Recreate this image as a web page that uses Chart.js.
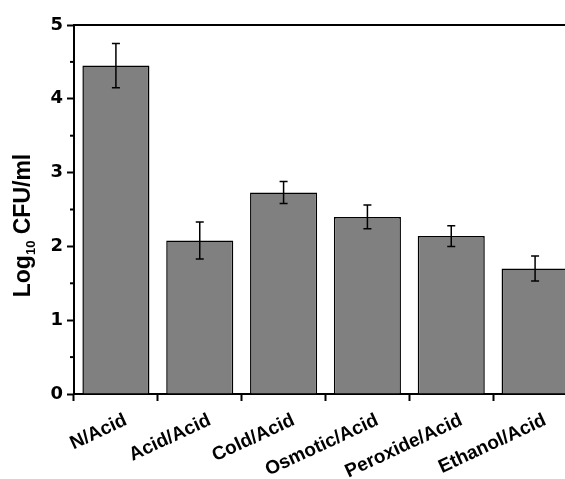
<!DOCTYPE html>
<html>
<head>
<meta charset="utf-8">
<script src="https://cdn.jsdelivr.net/npm/chart.js@4/dist/chart.umd.min.js"></script>
<style>
  body { margin: 0; overflow: hidden; background: #fff; }
  #wrap { width: 578px; height: 479px; }
</style>
</head>
<body>
<div id="wrap"><canvas id="bars" width="578" height="479"></canvas></div>
<script>
// categories and values
const groups = ['N/Acid', 'Acid/Acid', 'Cold/Acid', 'Osmotic/Acid', 'Peroxide/Acid', 'Ethanol/Acid'];
const meanLog = [4.45, 2.08, 2.73, 2.40, 2.14, 1.70];
const errLog = [0.30, 0.25, 0.15, 0.16, 0.14, 0.17];
const yMinor = [0.5, 1.5, 2.5, 3.5, 4.5];

const FONT = 'Liberation Sans, Arial, sans-serif';

//draws error bars, minor y ticks, the frame and the y title with subscript
const extras = {
	id: 'extras',
	afterDatasetsDraw(chart) {
		const ctx = chart.ctx;
		const x = chart.scales.x;
		const y = chart.scales.y;
		const area = chart.chartArea;

		ctx.save();
		ctx.strokeStyle = '#000';
		ctx.lineWidth = 1.5;

		//error bars
		meanLog.forEach((v, i) => {
			const cx = x.getPixelForValue(i);
			const top = y.getPixelForValue(v + errLog[i]);
			const bot = y.getPixelForValue(v - errLog[i]);
			ctx.beginPath();
			ctx.moveTo(cx, top);
			ctx.lineTo(cx, bot);
			ctx.moveTo(cx - 4, top);
			ctx.lineTo(cx + 4, top);
			ctx.moveTo(cx - 4, bot);
			ctx.lineTo(cx + 4, bot);
			ctx.stroke();
		});

		//minor ticks on y
		ctx.lineWidth = 2;
		yMinor.forEach(v => {
			const py = y.getPixelForValue(v);
			ctx.beginPath();
			ctx.moveTo(area.left - 4, py);
			ctx.lineTo(area.left, py);
			ctx.stroke();
		});

		//frame top and right
		ctx.beginPath();
		ctx.moveTo(area.left, area.top);
		ctx.lineTo(area.right, area.top);
		ctx.lineTo(area.right, area.bottom);
		ctx.stroke();

		//y title "Log10 CFU/ml"
		ctx.translate(24, (area.top + area.bottom) / 2 + 16);
		ctx.rotate(-Math.PI / 2);
		ctx.fillStyle = '#000';
		ctx.textBaseline = 'middle';
		const big = 'bold 23px ' + FONT;
		const small = 'bold 13px ' + FONT;
		ctx.font = big;
		const w1 = ctx.measureText('Log').width;
		const w3 = ctx.measureText(' CFU/ml').width;
		ctx.font = small;
		const w2 = ctx.measureText('10').width;
		let px = -(w1 + w2 + w3) / 2;
		ctx.font = big;
		ctx.fillText('Log', px, 0);
		px += w1;
		ctx.font = small;
		ctx.fillText('10', px, 7);
		px += w2;
		ctx.font = big;
		ctx.fillText(' CFU/ml', px, 0);
		ctx.restore();
	}
};

new Chart(document.getElementById('bars').getContext('2d'), {
	type: 'bar',
	data: {
		labels: groups,
		datasets: [{
			data: meanLog,
			backgroundColor: '#808080',
			borderColor: '#000',
			borderWidth: 1.5,
			barPercentage: 0.8,
			categoryPercentage: 1.0
		}]
	},
	options: {
		responsive: false,
		animation: false,
		layout: { padding: { top: 25, right: 1, left: 0, bottom: 0 } },
		plugins: {
			legend: { display: false },
			tooltip: { enabled: false }
		},
		scales: {
			x: {
				grid: { drawOnChartArea: false, tickLength: 7, tickWidth: 2, tickColor: '#000', offset: true },
				border: { color: '#000', width: 2 },
				ticks: {
					color: '#000',
					font: { family: FONT, size: 19, weight: 'bold' },
					minRotation: 25,
					maxRotation: 25,
					autoSkip: false,
					labelOffset: 10,
					padding: 8
				},
				afterFit(scale) { scale.height = 85; }
			},
			y: {
				min: 0,
				max: 5,
				grid: { drawOnChartArea: false, tickLength: 7, tickWidth: 2, tickColor: '#000' },
				border: { color: '#000', width: 2 },
				ticks: {
					stepSize: 1,
					color: '#000',
					font: { family: 'DejaVu Sans', size: 18, weight: 'bold' },
					padding: 4
				},
				afterFit(scale) { scale.width = 74; }
			}
		}
	},
	plugins: [extras]
});
</script>
</body>
</html>
